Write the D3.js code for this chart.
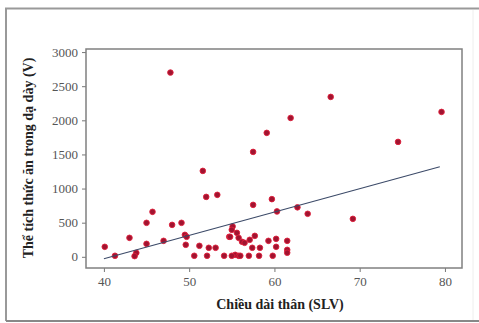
<!DOCTYPE html>
<html>
<head>
<meta charset="utf-8">
<script src="https://cdn.jsdelivr.net/npm/d3@7"></script>
<style>
  body { margin:0; background:#fff; }
  .tick text { font-family:"Liberation Serif","Times New Roman",serif; font-size:13px; fill:#555; }
  .lbl { font-family:"Liberation Serif","Times New Roman",serif; font-size:14px; font-weight:bold; fill:#222; }
</style>
</head>
<body>
<div id="chart"></div>
<script>
// chieu dai than (SLV) vs the tich thuc an (V)
var lenVals = [40.1,41.3,43.0,43.8,43.6,45.0,45.7,45.0,47.0,48.0,49.1,49.5,49.7,49.6,50.6,51.2,52.1,52.3,53.1,54.1,
  54.7,55.4,47.8,51.6,52.0,53.3,57.5,59.1,61.9,66.6,74.5,79.6,57.5,59.7,60.3,62.7,63.9,69.2,55.1,55.0,
  55.6,55.8,56.2,56.5,54.8,57.1,57.7,57.4,58.3,59.3,60.2,61.5,60.2,61.5,55.8,57.0,58.2,59.8,61.5,56.0,55.0];
var volVals = [146,15,278,58,10,498,659,190,234,468,498,322,293,176,15,161,15,132,132,15,
  293,29,2700,1259,878,908,1537,1816,2035,2343,1684,2123,761,845,665,725,630,556,445,395,
  351,278,220,205,293,249,307,132,132,234,263,234,146,102,15,15,15,15,60,15,15];
var xTicks = [40,50,60,70,80];
var yTicks = [0,500,1000,1500,2000,2500,3000];
var fitSlope = 34.2, fitIntercept = -1397;

var W = 479, H = 323;
var margin = {top:49, right:17, bottom:55, left:86},
    width = W - margin.left - margin.right,
    height = H - margin.top - margin.bottom;

var svg = d3.select("#chart").append("svg")
    .attr("width", W).attr("height", H);

// outer frame
svg.append("path")
    .attr("d", "M6,321 L6,8.5 L479,8.5")
    .attr("fill","none").attr("stroke","#999").attr("stroke-width",2);
svg.append("line").attr("x1",6).attr("x2",479).attr("y1",321).attr("y2",321)
    .attr("stroke","#888").attr("stroke-width",2);
svg.append("line").attr("x1",473).attr("x2",473).attr("y1",10).attr("y2",320)
    .attr("stroke","#eee").attr("stroke-width",1);

var g = svg.append("g").attr("transform","translate(" + margin.left + "," + margin.top + ")");

var x = d3.scaleLinear().domain([37.9, 82]).range([0, width]);
var y = d3.scaleLinear().domain([-164, 3045]).range([height, 0]);

g.append("g").attr("transform","translate(0," + height + ")")
    .call(d3.axisBottom(x).tickValues(xTicks).tickFormat(d3.format("d")).tickSize(4).tickPadding(5))
    .call(function(a){ a.select(".domain").remove(); a.selectAll("line").attr("stroke","#777"); });
g.append("g")
    .call(d3.axisLeft(y).tickValues(yTicks).tickFormat(d3.format("d")).tickSize(4).tickPadding(4))
    .call(function(a){ a.select(".domain").remove(); a.selectAll("line").attr("stroke","#777"); });

g.append("rect").attr("width", width).attr("height", height)
    .attr("fill","none").attr("stroke","#808080").attr("stroke-width",1.5);

var data = lenVals.map(function(d,i){ return {x:d, y:volVals[i]}; });

g.selectAll("circle.pt").data(data).enter().append("circle")
    .attr("class","pt")
    .attr("cx", function(d){ return x(d.x); })
    .attr("cy", function(d){ return y(d.y); })
    .attr("r", 2.8)
    .attr("fill","#a01430")
    .attr("stroke","#e0203c").attr("stroke-width",0.9);

var ext = d3.extent(lenVals);
g.append("line")
    .attr("x1", x(ext[0] - 0.1)).attr("y1", y(fitSlope*(ext[0]-0.1) + fitIntercept))
    .attr("x2", x(ext[1] - 0.2)).attr("y2", y(fitSlope*(ext[1]-0.2) + fitIntercept))
    .attr("stroke","#3c4a68").attr("stroke-width",1.1);

svg.append("text").attr("class","lbl")
    .attr("x", 280).attr("y", 309).attr("text-anchor","middle")
    .text("Chiều dài thân (SLV)");
svg.append("text").attr("class","lbl")
    .attr("transform","translate(33,158) rotate(-90)").attr("text-anchor","middle")
    .text("Thể tích thức ăn trong dạ dày (V)");
</script>
</body>
</html>
